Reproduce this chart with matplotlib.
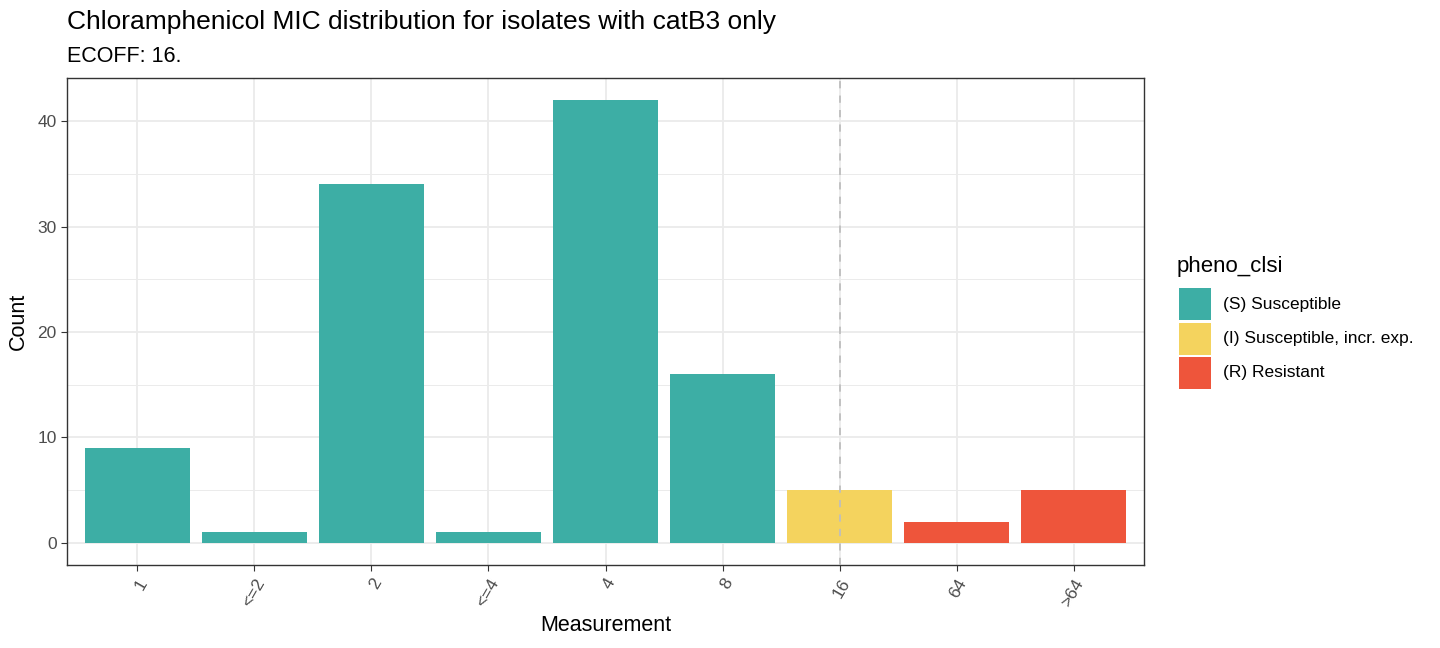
import matplotlib
matplotlib.use("Agg")
import matplotlib.pyplot as plt
from matplotlib.patches import Rectangle
from matplotlib.ticker import MultipleLocator

# data
categories = ["1", "<=2", "2", "<=4", "4", "8", "16", "64", ">64"]
counts = [9, 1, 34, 1, 42, 16, 5, 2, 5]
pheno = ["S", "S", "S", "S", "S", "S", "I", "R", "R"]
legend_keys = ["S", "I", "R"]
legend_labels = ["(S) Susceptible", "(I) Susceptible, incr. exp.", "(R) Resistant"]
ecoff = "16"

colors = {"S": "#3DAEA5", "I": "#F4D35E", "R": "#EE553B"}

plt.rcParams['font.family'] = ['Liberation Sans', 'DejaVu Sans']

W, H = 1440, 648
fig = plt.figure(figsize=(W/100, H/100), dpi=100)
# panel box in pixels: left 67, right 1144, top 78, bottom 565
ax = fig.add_axes([67/W, 1-565/H, (1144-67)/W, (565-78)/H])

xs = list(range(len(categories)))
ax.bar(xs, counts, width=0.9, color=[colors[p] for p in pheno], zorder=3)

# ecoff line
ax.axvline(categories.index(ecoff), color="#BEBEBE", linestyle=(0, (4, 4)), linewidth=1.3, zorder=4)

ax.set_xlim(-0.6, len(categories) - 0.4)
ax.set_ylim(-2.1, 44.1)
ax.set_xticks(xs)
ax.set_xticklabels(categories, rotation=60, ha="right", va="top",
                   rotation_mode="anchor", fontsize=12.5, color="#4D4D4D")
ax.yaxis.set_major_locator(MultipleLocator(10))
ax.yaxis.set_minor_locator(MultipleLocator(5))
ax.tick_params(axis="y", labelsize=12.5, labelcolor="#4D4D4D", color="#333333", length=4)
ax.tick_params(axis="x", color="#333333", length=4, pad=4)
ax.tick_params(axis="y", which="minor", length=0)

ax.grid(True, which="major", color="#EBEBEB", linewidth=1.3, zorder=0)
ax.grid(True, which="minor", axis="y", color="#EBEBEB", linewidth=0.7, zorder=0)
ax.set_axisbelow(True)
for s in ax.spines.values():
    s.set_color("#333333")
    s.set_linewidth(1.0)

ax.set_xlabel("Measurement", fontsize=15.5, labelpad=4)
ax.set_ylabel("Count", fontsize=15.5, labelpad=6)

fig.text(67/W, 1-22/H, "Chloramphenicol MIC distribution for isolates with catB3 only",
         fontsize=19, va="center", ha="left")
fig.text(67/W, 1-56/H, "ECOFF: " + ecoff + ".", fontsize=15.5, va="center", ha="left")

# legend drawn by hand, like ggplot's guide on the right
fig.text(1177/W, 1-267/H, "pheno_clsi", fontsize=16, va="center", ha="left")
for i, (k, lab) in enumerate(zip(legend_keys, legend_labels)):
    top = 288 + i*34.5
    fig.add_artist(Rectangle((1179/W, 1-(top+32)/H), 32/W, 32/H,
                             transform=fig.transFigure, facecolor=colors[k], edgecolor="none"))
    fig.text(1223/W, 1-(top+16)/H, lab, fontsize=12.5, va="center", ha="left")

fig.savefig("out.png", dpi=100)
